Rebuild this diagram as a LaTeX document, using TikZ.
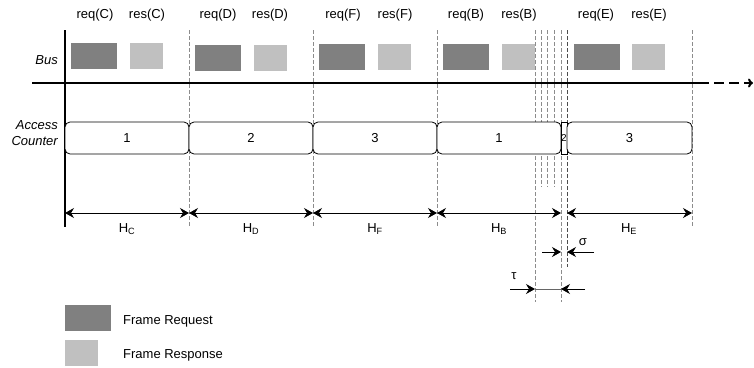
\documentclass[tikz,border=0pt]{standalone}
\usepackage{fontspec}
\setmainfont{Liberation Sans}
\usetikzlibrary{arrows.meta}
\definecolor{reqgray}{HTML}{808080}
\definecolor{resgray}{HTML}{C0C0C0}
\definecolor{sepgray}{HTML}{8C8C8C}
\begin{document}
\begin{tikzpicture}[x=1pt,y=-1pt,
  every node/.style={font=\fontsize{13}{16}\selectfont, inner sep=0pt},
  reqbox/.style={fill=reqgray, draw=none, minimum width=46pt, minimum height=26pt},
  resbox/.style={fill=resgray, draw=none, minimum width=33pt, minimum height=26pt},
  ctrbox/.style={draw=black, fill=white, line width=0.8pt, rounded corners=5pt, minimum height=32pt},
  sep/.style={draw=sepgray, line width=0.7pt, dash pattern=on 4pt off 2pt},
  sepdark/.style={draw=black!70, line width=0.7pt, dash pattern=on 4pt off 2pt},
  axis/.style={line width=2pt},
  dim/.style={line width=0.8pt, {Stealth[length=9pt,width=10pt,inset=3pt]}-{Stealth[length=9pt,width=10pt,inset=3pt]}},
  dimr/.style={line width=0.8pt, -{Stealth[length=9pt,width=10pt,inset=3pt]}},
  lbl/.style={anchor=center}
]
\useasboundingbox (0,0) rectangle (754,367);

% separator coordinates
\foreach \n/\x/\yb in {s1/189/227, s2/313/227, s3/437/227, t1/535/302, c1/541/187, c2/547/187, c3/554/187, t2/561/302, s6/692/227}{
  \coordinate (\n top) at (\x,30);
  \coordinate (\n bot) at (\x,\yb);
  \draw[sep] (\n top) -- (\n bot);
}
\coordinate (u1top) at (567,30);
\coordinate (u1bot) at (567,267);
\draw[sepdark] (u1top) -- (u1bot);

% axes
\coordinate (vtop) at (65,30);
\coordinate (vbot) at (65,227);
\coordinate (busL) at (32,83);
\coordinate (busR) at (699,83);
\coordinate (busEnd) at (753,83);
\draw[axis] (vtop) -- (vbot);
\draw[axis] (busL) -- (busR);
\draw[line width=2pt, dash pattern=on 10pt off 5pt, -{To[length=5pt,width=9pt]}] (busR) -- (busEnd);

% row labels
\node[anchor=east, font=\fontsize{13}{16}\selectfont\itshape] (lbus) at (58,60) {Bus};
\node[anchor=east, align=right, font=\fontsize{13}{16}\selectfont\itshape] (lacc) at (58,133) {Access\\Counter};

% bus frames
\node[reqbox] (reqC) at (94,56) {};
\node[resbox] (resC) at (146.5,56) {};
\node[reqbox] (reqD) at (218,57.5) {};
\node[resbox] (resD) at (270.5,57.5) {};
\node[reqbox] (reqF) at (342,56.5) {};
\node[resbox] (resF) at (394.5,56.5) {};
\node[reqbox] (reqB) at (466,56.5) {};
\node[resbox] (resB) at (518.5,56.5) {};
\node[reqbox] (reqE) at (596.5,56.5) {};
\node[resbox] (resE) at (648.5,56.5) {};

% frame labels
\node (treqC) at (95,15) {req(C)};
\node (tresC) at (147,15) {res(C)};
\node (treqD) at (218,15) {req(D)};
\node (tresD) at (270,15) {res(D)};
\node (treqF) at (343,15) {req(F)};
\node (tresF) at (395,15) {res(F)};
\node (treqB) at (466,15) {req(B)};
\node (tresB) at (519,15) {res(B)};
\node (treqE) at (596,15) {req(E)};
\node (tresE) at (649,15) {res(E)};

% access counter
\node[ctrbox, minimum width=124pt] (k1) at (127,138) {1};
\node[ctrbox, minimum width=124pt] (k2) at (251,138) {2};
\node[ctrbox, minimum width=124pt] (k3) at (375,138) {3};
\node[ctrbox, minimum width=124pt] (k4) at (499,138) {1};
\node[draw=black, fill=white, line width=0.8pt, minimum width=6pt, minimum height=32pt] (k5) at (564,138) {};
\node[font=\fontsize{10}{11}\selectfont] (k5t) at (564,138) {2};
\node[ctrbox, minimum width=125pt] (k6) at (629.5,138) {3};

% dimension arrows
\coordinate (h0) at (65,213);
\coordinate (h1) at (189,213);
\coordinate (h2) at (313,213);
\coordinate (h3) at (437,213);
\coordinate (h4) at (561,213);
\coordinate (h5) at (567,213);
\coordinate (h6) at (692,213);
\draw[dim] (h0) -- (h1);
\draw[dim] (h1) -- (h2);
\draw[dim] (h2) -- (h3);
\draw[dim] (h3) -- (h4);
\draw[dim] (h5) -- (h6);
\node (HC) at (127,229) {H\textsubscript{C}};
\node (HD) at (251,229) {H\textsubscript{D}};
\node (HF) at (375,229) {H\textsubscript{F}};
\node (HB) at (499,229) {H\textsubscript{B}};
\node (HE) at (629,229) {H\textsubscript{E}};

% sigma
\coordinate (sgA) at (542,252);
\coordinate (sgB) at (561,252);
\coordinate (sgC) at (567,252);
\coordinate (sgD) at (594,252);
\draw[dimr] (sgA) -- (sgB);
\draw[dimr] (sgD) -- (sgC);
\node (sigma) at (583,242) {σ};

% tau
\coordinate (tuA) at (510,289);
\coordinate (tuB) at (535,289);
\coordinate (tuC) at (561,289);
\coordinate (tuD) at (585,289);
\draw[line width=0.8pt, draw=black!60] (tuB) -- (tuC);
\draw[dimr] (tuA) -- (tuB);
\draw[dimr] (tuD) -- (tuC);
\node (tau) at (514,276) {τ};

% legend
\node[reqbox] (legreq) at (88,318) {};
\node[resbox] (legres) at (81.5,353) {};
\node[anchor=west] (tlegreq) at (123,321) {Frame Request};
\node[anchor=west] (tlegres) at (123,355) {Frame Response};
\end{tikzpicture}
\end{document}
